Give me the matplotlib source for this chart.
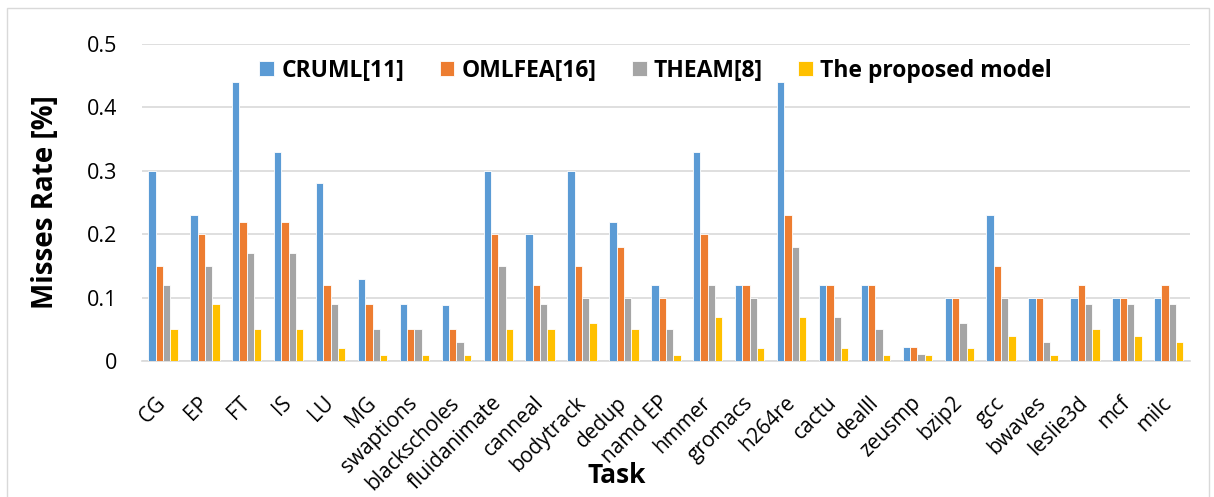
import numpy as np
import matplotlib.pyplot as plt
from matplotlib.patches import Rectangle

plt.rcParams['font.family'] = ['Open Sans', 'DejaVu Sans']

# Tasks on the x axis
tasks = ['CG', 'EP', 'FT', 'IS', 'LU', 'MG', 'swaptions', 'blackscholes',
         'fluidanimate', 'canneal', 'bodytrack', 'dedup', 'namd EP', 'hmmer',
         'gromacs', 'h264re', 'cactu', 'dealll', 'zeusmp', 'bzip2', 'gcc',
         'bwaves', 'leslie3d', 'mcf', 'milc']

# Miss rates per model
cruml = [0.30, 0.23, 0.44, 0.33, 0.28, 0.13, 0.09, 0.088, 0.30, 0.20, 0.30, 0.22, 0.12,
         0.33, 0.12, 0.44, 0.12, 0.12, 0.022, 0.10, 0.23, 0.10, 0.10, 0.10, 0.10]
omlfea = [0.15, 0.20, 0.22, 0.22, 0.12, 0.09, 0.05, 0.05, 0.20, 0.12, 0.15, 0.18, 0.10,
          0.20, 0.12, 0.23, 0.12, 0.12, 0.022, 0.10, 0.15, 0.10, 0.12, 0.10, 0.12]
theam = [0.12, 0.15, 0.17, 0.17, 0.09, 0.05, 0.05, 0.03, 0.15, 0.09, 0.10, 0.10, 0.05,
         0.12, 0.10, 0.18, 0.07, 0.05, 0.011, 0.06, 0.10, 0.03, 0.09, 0.09, 0.09]
proposed = [0.05, 0.09, 0.05, 0.05, 0.02, 0.01, 0.01, 0.01, 0.05, 0.05, 0.06, 0.05, 0.01,
            0.07, 0.02, 0.07, 0.02, 0.01, 0.01, 0.02, 0.04, 0.01, 0.05, 0.04, 0.03]

series = [
    ('CRUML[11]', cruml, '#5B9BD5'),
    ('OMLFEA[16]', omlfea, '#ED7D31'),
    ('THEAM[8]', theam, '#A5A5A5'),
    ('The proposed model', proposed, '#FFC000'),
]

fig = plt.figure(figsize=(12.14, 4.97), dpi=100)
ax = fig.add_axes([0.117, 0.2736, 0.863, 0.638])

# outer frame of the chart
fig.patches.append(Rectangle((0.006, -0.01), 0.99, 0.994, transform=fig.transFigure,
                             fill=False, edgecolor='#D9D9D9', linewidth=1))

x = np.arange(len(tasks))
w = 0.175
for i, (name, vals, col) in enumerate(series):
    ax.bar(x + (i - 1.5) * w, vals, w, color=col, edgecolor='white',
           linewidth=0.6, label=name, zorder=3)

ax.set_xlim(-0.5, len(tasks) - 0.5)
ax.set_ylim(0, 0.5)
ax.set_yticks([0, 0.1, 0.2, 0.3, 0.4, 0.5])
ax.set_yticklabels(['0', '0.1', '0.2', '0.3', '0.4', '0.5'], fontsize=15.5)
ax.yaxis.grid(True, color='#D9D9D9', linewidth=1.2, zorder=0)
ax.set_axisbelow(True)
for s in ['top', 'right', 'left']:
    ax.spines[s].set_visible(False)
ax.spines['bottom'].set_color('#D9D9D9')
ax.spines['bottom'].set_linewidth(1.2)
ax.tick_params(axis='both', length=0)
ax.tick_params(axis='y', pad=18)

ax.set_xticks(x)
ax.set_xticklabels(tasks, rotation=45, ha='right', va='center',
                   rotation_mode='anchor', fontsize=15)
ax.tick_params(axis='x', pad=28)

ax.set_ylabel('Misses Rate [%]', fontsize=20, fontweight='bold')
ax.yaxis.set_label_coords(-0.078, 0.5)
ax.set_xlabel('Task', fontsize=19, fontweight='bold')
ax.xaxis.set_label_coords(0.453, -0.318)

leg = ax.legend(loc='center left', bbox_to_anchor=(0.112, 0.915), ncol=4, frameon=False,
                prop={'size': 16.5, 'weight': 'bold'}, handlelength=0.65, handleheight=0.65,
                handletextpad=0.3, columnspacing=1.55, borderaxespad=0, borderpad=0)

fig.savefig('out.png', dpi=100)
